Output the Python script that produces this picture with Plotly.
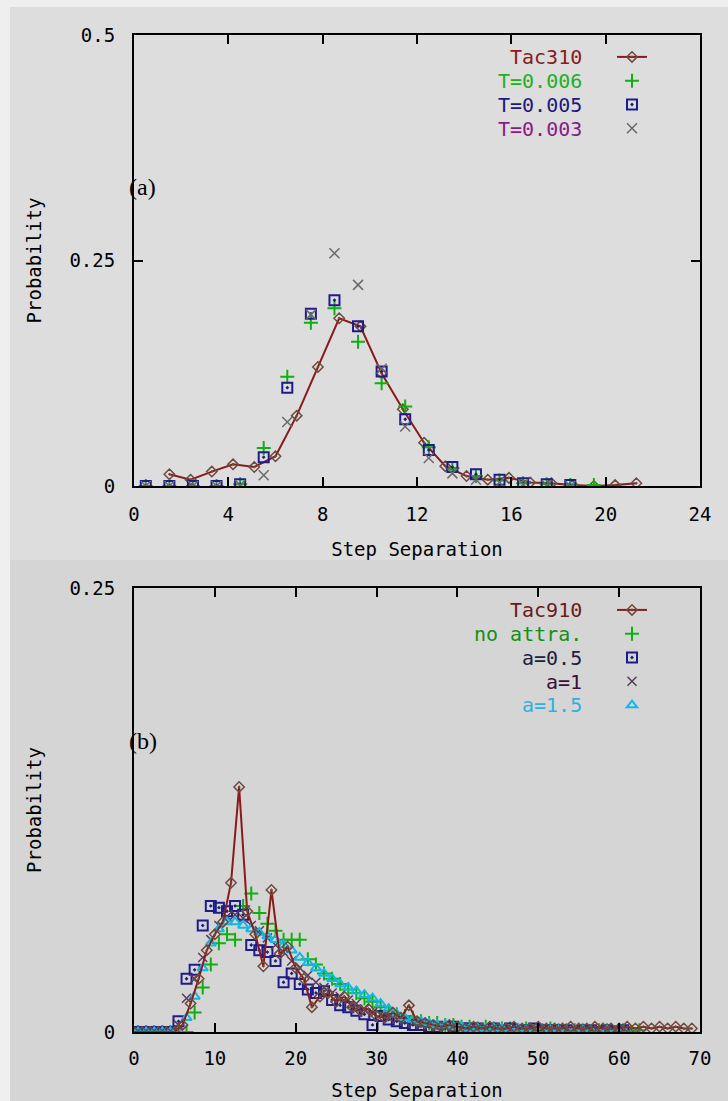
import plotly.graph_objects as go

# ---------------- data: panel (a) ----------------
tac310_x = [1.5, 2.4, 3.3, 4.2, 5.1, 6.0, 6.9, 7.8, 8.7, 9.6, 10.5, 11.4, 12.3,
            13.2, 14.1, 15.0, 15.9, 16.8, 17.7, 18.6, 19.5, 20.4, 21.3]
tac310_y = [0.013, 0.007, 0.016, 0.024, 0.021, 0.033, 0.078, 0.132, 0.186, 0.177,
            0.125, 0.085, 0.048, 0.022, 0.011, 0.007, 0.009, 0.004, 0.003, 0.001,
            0.000, 0.001, 0.003]

t006_x = [0.5, 1.5, 2.5, 3.5, 4.5, 5.5, 6.5, 7.5, 8.5, 9.5, 10.5, 11.5, 12.5,
          13.5, 14.5, 15.5, 16.5, 17.5, 18.5, 19.5]
t006_y = [0, 0, 0, 0, 0.002, 0.042, 0.121, 0.181, 0.197, 0.160, 0.114, 0.088,
          0.043, 0.020, 0.011, 0.006, 0.003, 0.002, 0.001, 0.001]

t005_x = [0.5, 1.5, 2.5, 3.5, 4.5, 5.5, 6.5, 7.5, 8.5, 9.5, 10.5, 11.5, 12.5,
          13.5, 14.5, 15.5, 16.5, 17.5, 18.5]
t005_y = [0, 0, 0, 0, 0.002, 0.032, 0.109, 0.191, 0.206, 0.177, 0.127, 0.074,
          0.040, 0.021, 0.013, 0.007, 0.003, 0.002, 0.001]

t003_x = [0.5, 1.5, 2.5, 3.5, 4.5, 5.5, 6.5, 7.5, 8.5, 9.5, 10.5, 11.5, 12.5,
          13.5, 14.5, 15.5, 16.5, 17.5, 18.5]
t003_y = [0, 0, 0, 0, 0.001, 0.012, 0.071, 0.190, 0.258, 0.223, 0.130, 0.066,
          0.031, 0.014, 0.007, 0.004, 0.002, 0.001, 0.000]

xa_ticks = [0, 4, 8, 12, 16, 20, 24]
ya_ticks = [0, 0.25, 0.5]
ya_text = ["0", "0.25", "0.5"]

# ---------------- data: panel (b) ----------------
tac910_y = [0, 0, 0, 0, 0, 0, 0.004, 0.016, 0.030, 0.046, 0.055, 0.062, 0.084,
            0.138, 0.068, 0.055, 0.037, 0.080, 0.044, 0.048, 0.036, 0.030, 0.014,
            0.020, 0.022, 0.017, 0.020, 0.014, 0.012, 0.013, 0.009, 0.008, 0.011,
            0.008, 0.015, 0.006, 0.005, 0.004, 0.003, 0.004, 0.003, 0.002, 0.003,
            0.002, 0.003, 0.002, 0.002, 0.003, 0.002, 0.002, 0.003, 0.002, 0.002,
            0.002, 0.003, 0.002, 0.002, 0.003, 0.002, 0.002, 0.002, 0.003, 0.002,
            0.003, 0.002, 0.003, 0.002, 0.003, 0.002, 0.002]
tac910_x = [float(i) for i in range(len(tac910_y))]

noattr_y = [0, 0, 0, 0, 0, 0, 0, 0.011, 0.025, 0.038, 0.050, 0.055, 0.052, 0.071,
            0.078, 0.067, 0.061, 0.057, 0.052, 0.052, 0.052, 0.041, 0.038, 0.033,
            0.030, 0.027, 0.024, 0.022, 0.019, 0.017, 0.014, 0.012, 0.010, 0.009,
            0.008, 0.006, 0.005, 0.005, 0.004, 0.004, 0.003, 0.003, 0.002, 0.003,
            0.002, 0.002, 0.002, 0.001, 0.002, 0.001, 0.001, 0.002, 0.001, 0.001,
            0.001, 0.001, 0.000, 0.001, 0.001, 0.000, 0.001, 0.000, 0.001]
noattr_x = [i + 0.5 for i in range(len(noattr_y))]

a05_y = [0, 0, 0, 0, 0, 0.006, 0.030, 0.035, 0.060, 0.071, 0.070, 0.068, 0.071,
         0.066, 0.049, 0.046, 0.045, 0.040, 0.028, 0.033, 0.027, 0.024, 0.022,
         0.023, 0.018, 0.015, 0.014, 0.012, 0.010, 0.004, 0.009, 0.007, 0.006,
         0.005, 0.004, 0.004, 0.003, 0.003, 0.002, 0.003, 0.002, 0.002, 0.002,
         0.001, 0.002, 0.001, 0.002, 0.001, 0.001, 0.002, 0.001, 0.001, 0.001,
         0.001, 0.000, 0.001, 0.001, 0.000, 0.001, 0.000, 0.001]
a05_x = [i + 0.5 for i in range(len(a05_y))]

a1_y = [0, 0, 0, 0, 0, 0.004, 0.019, 0.030, 0.042, 0.052, 0.060, 0.065, 0.066,
        0.064, 0.060, 0.057, 0.053, 0.049, 0.045, 0.040, 0.036, 0.032, 0.028,
        0.025, 0.022, 0.020, 0.018, 0.016, 0.013, 0.011, 0.010, 0.008, 0.007,
        0.006, 0.005, 0.004, 0.004, 0.003, 0.003, 0.002, 0.002, 0.002, 0.002,
        0.001, 0.002, 0.001, 0.001, 0.001, 0.001, 0.001, 0.001, 0.001, 0.000,
        0.001, 0.001, 0.000, 0.001, 0.000, 0.001, 0.000, 0.000]
a1_x = [i + 0.5 for i in range(len(a1_y))]

a15_y = [0, 0, 0, 0, 0, 0, 0.008, 0.020, 0.036, 0.050, 0.058, 0.062, 0.062,
         0.060, 0.058, 0.056, 0.054, 0.052, 0.049, 0.046, 0.042, 0.039, 0.036,
         0.033, 0.030, 0.027, 0.025, 0.023, 0.021, 0.019, 0.016, 0.013, 0.010,
         0.008, 0.007, 0.006, 0.005, 0.004, 0.004, 0.003, 0.003, 0.002, 0.002,
         0.002, 0.002, 0.002, 0.001, 0.002, 0.001, 0.001, 0.001, 0.001, 0.001,
         0.001, 0.001, 0.001, 0.001, 0.000, 0.001, 0.000, 0.001]
a15_x = [i + 0.5 for i in range(len(a15_y))]

xb_ticks = [0, 10, 20, 30, 40, 50, 60, 70]
yb_ticks = [0, 0.25]
yb_text = ["0", "0.25"]

# ---------------- styling ----------------
W, H = 728, 1101
MONO = "DejaVu Sans Mono"
FS = 19
TAC_LINE = "#8b1a1a"
TAC_MK = "#6e4b3c"
GREEN = "#10b010"
NAVY = "#1c1c8c"
GRAYX = "#6a6a6a"
CYAN = "#10b8e8"


def px_x(p):
    return p / W


def px_y(p):
    return 1 - p / H


fig = go.Figure()

# panel (a)
fig.add_trace(go.Scatter(x=tac310_x, y=tac310_y, mode="lines+markers", name="",
                         line=dict(color=TAC_LINE, width=2),
                         marker=dict(symbol="diamond-open-dot", size=8, color=TAC_MK,
                                     line=dict(width=1.5, color=TAC_MK)),
                         xaxis="x", yaxis="y", legend="legend"))
fig.add_trace(go.Scatter(x=t006_x, y=t006_y, mode="markers", name="",
                         marker=dict(symbol="cross-thin-open", size=10,
                                     line=dict(width=2, color=GREEN), color=GREEN),
                         xaxis="x", yaxis="y", legend="legend"))
fig.add_trace(go.Scatter(x=t005_x, y=t005_y, mode="markers", name="",
                         marker=dict(symbol="square-open-dot", size=10, color=NAVY,
                                     line=dict(width=2, color=NAVY)),
                         xaxis="x", yaxis="y", legend="legend"))
fig.add_trace(go.Scatter(x=t003_x, y=t003_y, mode="markers", name="",
                         marker=dict(symbol="x-thin-open", size=10,
                                     line=dict(width=1.5, color=GRAYX), color=GRAYX),
                         xaxis="x", yaxis="y", legend="legend"))

# panel (b)
fig.add_trace(go.Scatter(x=noattr_x, y=noattr_y, mode="markers", name="",
                         marker=dict(symbol="cross-thin-open", size=10,
                                     line=dict(width=2, color=GREEN), color=GREEN),
                         xaxis="x2", yaxis="y2", legend="legend2", legendrank=2))
fig.add_trace(go.Scatter(x=a05_x, y=a05_y, mode="markers", name="",
                         marker=dict(symbol="square-open-dot", size=10, color=NAVY,
                                     line=dict(width=2, color=NAVY)),
                         xaxis="x2", yaxis="y2", legend="legend2", legendrank=3))
fig.add_trace(go.Scatter(x=a1_x, y=a1_y, mode="markers", name="",
                         marker=dict(symbol="x-thin-open", size=9,
                                     line=dict(width=1.5, color="#5a3a5a"), color="#5a3a5a"),
                         xaxis="x2", yaxis="y2", legend="legend2", legendrank=4))
fig.add_trace(go.Scatter(x=a15_x, y=a15_y, mode="markers", name="",
                         marker=dict(symbol="triangle-up-open", size=9, color=CYAN,
                                     line=dict(width=2, color=CYAN)),
                         xaxis="x2", yaxis="y2", legend="legend2", legendrank=5))
fig.add_trace(go.Scatter(x=tac910_x, y=tac910_y, mode="lines+markers", name="",
                         line=dict(color=TAC_LINE, width=2),
                         marker=dict(symbol="diamond-open-dot", size=8, color=TAC_MK,
                                     line=dict(width=1.5, color=TAC_MK)),
                         xaxis="x2", yaxis="y2", legend="legend2", legendrank=1))

axis_common = dict(showline=True, linewidth=2, linecolor="black", mirror="ticks",
                   ticks="inside", ticklen=9, tickwidth=2, tickcolor="black",
                   showgrid=False, zeroline=False, automargin=False,
                   tickfont=dict(family=MONO, size=FS, color="black"))
title_font = dict(family=MONO, size=FS, color="black")

fig.update_layout(
    width=W, height=H,
    margin=dict(l=0, r=0, t=0, b=0),
    paper_bgcolor="#d5d5d5",
    plot_bgcolor="rgba(0,0,0,0)",
    showlegend=True,
    xaxis=dict(domain=[px_x(134), px_x(700)], range=[0, 24], tickvals=xa_ticks,
               anchor="y", ticklabelstandoff=10,
               title=dict(text="Step Separation", standoff=19, font=title_font),
               **axis_common),
    yaxis=dict(domain=[px_y(486), px_y(35)], range=[0, 0.5], tickvals=ya_ticks,
               ticktext=ya_text, anchor="x", ticklabelstandoff=13,
               title=dict(text="Probability", standoff=23, font=title_font),
               **axis_common),
    xaxis2=dict(domain=[px_x(134), px_x(700)], range=[0, 70], tickvals=xb_ticks,
                anchor="y2", ticklabelstandoff=8,
                title=dict(text="Step Separation", standoff=19, font=title_font),
                **axis_common),
    yaxis2=dict(domain=[px_y(1032), px_y(588)], range=[0, 0.25], tickvals=yb_ticks,
                ticktext=yb_text, anchor="x2", ticklabelstandoff=13,
                title=dict(text="Probability", standoff=23, font=title_font),
                **axis_common),
    legend=dict(x=px_x(612), y=px_y(40), xanchor="left", yanchor="top",
                bgcolor="rgba(0,0,0,0)", borderwidth=0,
                font=dict(family=MONO, size=16), traceorder="normal"),
    legend2=dict(x=px_x(612), y=px_y(593), xanchor="left", yanchor="top",
                 bgcolor="rgba(0,0,0,0)", borderwidth=0,
                 font=dict(family=MONO, size=16), traceorder="normal"),
)

# background bands (scan look)
shapes = [
    dict(type="rect", xref="paper", yref="paper", x0=0, x1=1, y0=px_y(560), y1=1,
         fillcolor="#dddddd", line=dict(width=0), layer="below"),
    dict(type="rect", xref="paper", yref="paper", x0=0, x1=px_x(10), y0=0, y1=1,
         fillcolor="#efefef", line=dict(width=0), layer="below"),
    dict(type="rect", xref="paper", yref="paper", x0=0, x1=1, y0=px_y(7), y1=1,
         fillcolor="#efefef", line=dict(width=0), layer="below"),
]
fig.update_layout(shapes=shapes)

# legend labels (right-aligned text left of the symbols)
leg_a = [("Tac310", "#8b1a1a", 57), ("T=0.006", "#22b022", 81),
         ("T=0.005", "#1a1a80", 105), ("T=0.003", "#8a1a8a", 129)]
leg_b = [("Tac910", "#6b1a1a", 610), ("no attra.", "#139013", 634),
         ("a=0.5", "#202040", 658), ("a=1", "#3a103a", 682), ("a=1.5", "#30b0e0", 705)]
ann = []
for txt, col, yy in leg_a + leg_b:
    ann.append(dict(text=txt, x=px_x(584), y=px_y(yy), xref="paper", yref="paper",
                    xanchor="right", yanchor="middle", showarrow=False,
                    font=dict(family=MONO, size=20, color=col)))
for txt, yy in [("(a)", 187), ("(b)", 741)]:
    ann.append(dict(text=txt, x=px_x(127), y=px_y(yy), xref="paper", yref="paper",
                    xanchor="left", yanchor="middle", showarrow=False,
                    font=dict(family="Liberation Serif", size=24, color="black")))
fig.update_layout(annotations=ann)

fig.write_html("out.html")
